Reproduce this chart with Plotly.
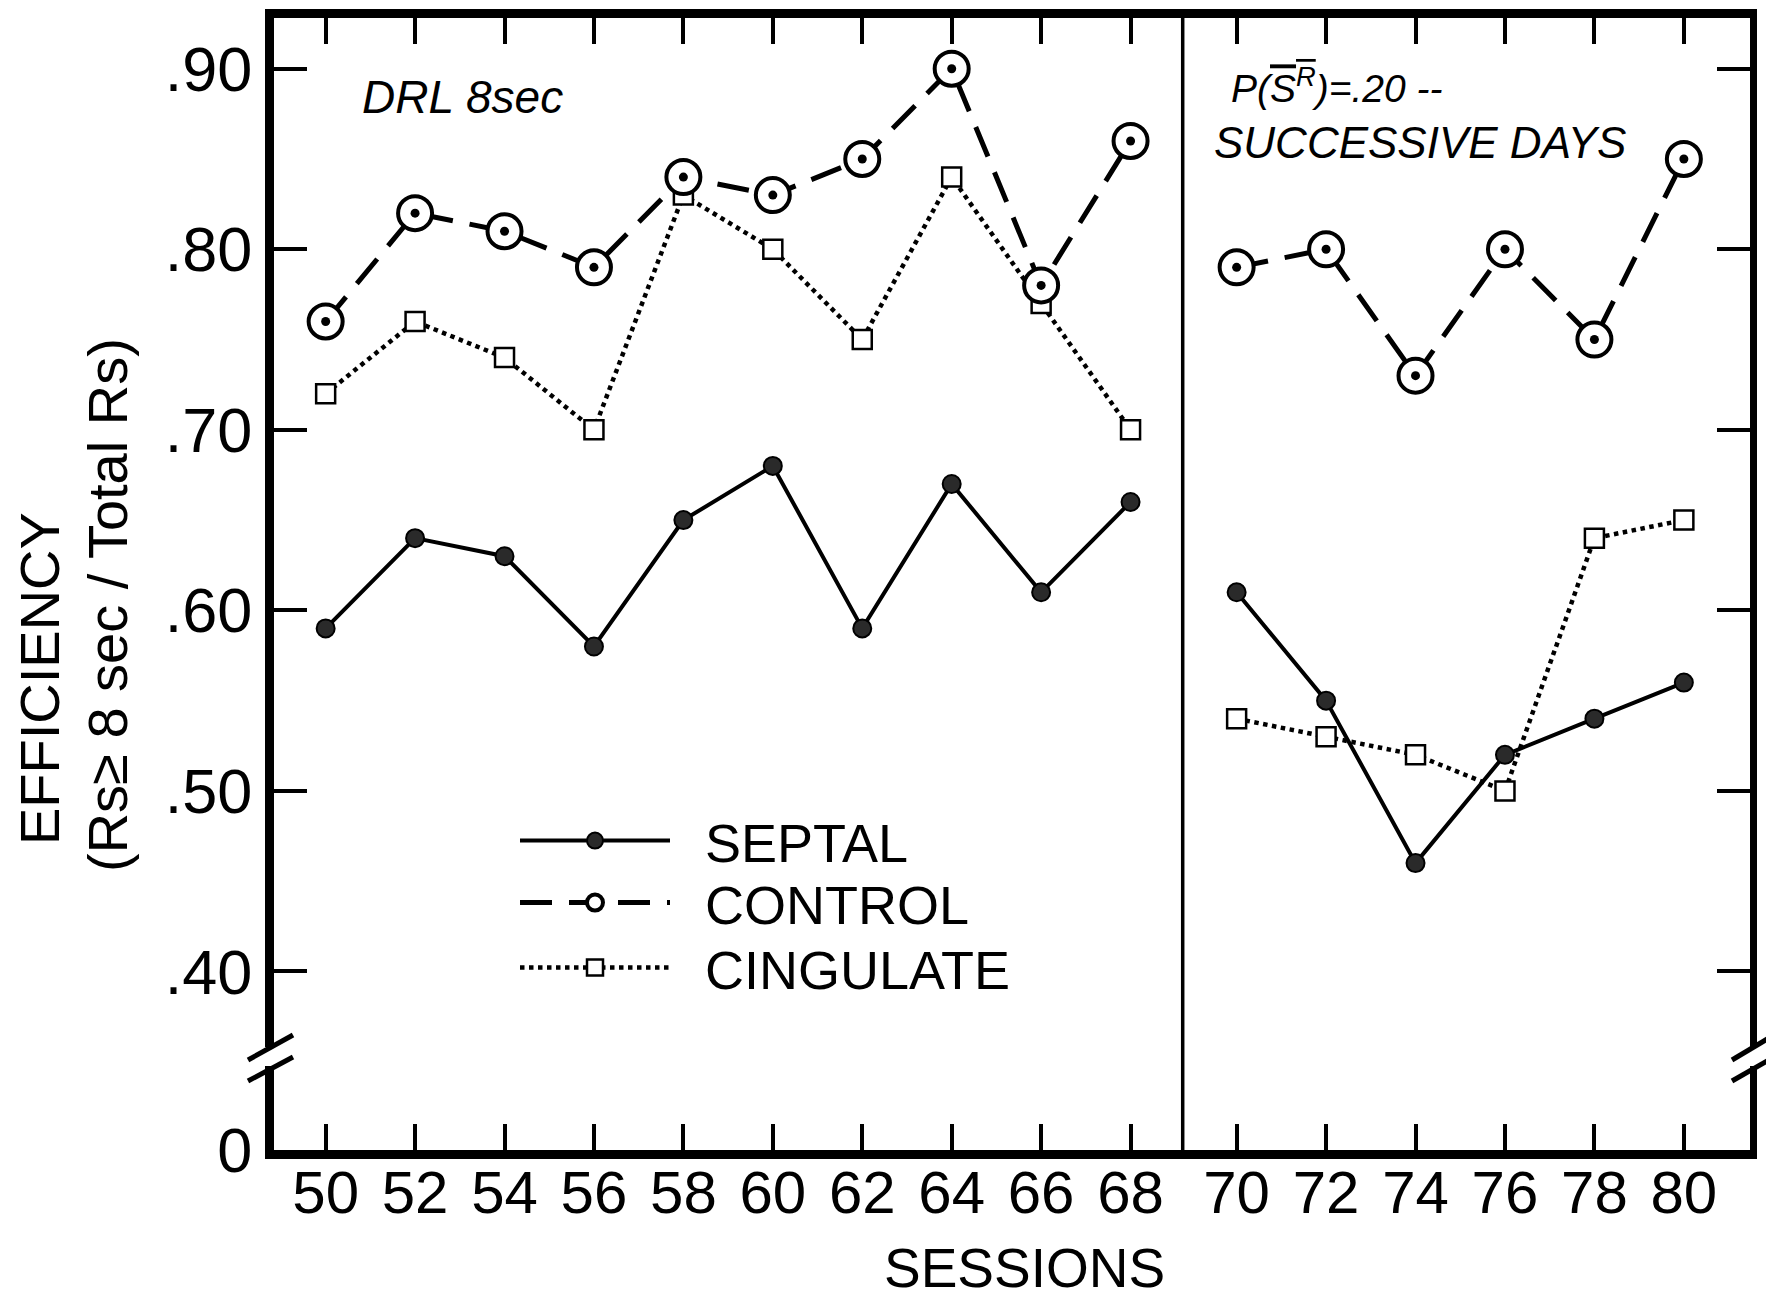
import plotly.graph_objects as go

# ---------------- data ----------------
sessions_drl = [50, 52, 54, 56, 58, 60, 62, 64, 66, 68]
sessions_succ = [70, 72, 74, 76, 78, 80]

septal_drl = [0.59, 0.64, 0.63, 0.58, 0.65, 0.68, 0.59, 0.67, 0.61, 0.66]
control_drl = [0.76, 0.82, 0.81, 0.79, 0.84, 0.83, 0.85, 0.90, 0.78, 0.86]
cingulate_drl = [0.72, 0.76, 0.74, 0.70, 0.83, 0.80, 0.75, 0.84, 0.77, 0.70]

septal_succ = [0.61, 0.55, 0.46, 0.52, 0.54, 0.56]
control_succ = [0.79, 0.80, 0.73, 0.80, 0.75, 0.85]
cingulate_succ = [0.54, 0.53, 0.52, 0.50, 0.64, 0.65]

y_break_bottom = 0.3011  # value drawn at the "0" position (broken axis)
y_top = 0.9281
y_tickvals = [0.40, 0.50, 0.60, 0.70, 0.80, 0.90]
y_ticktext = [".40", ".50", ".60", ".70", ".80", ".90"]

FONT = "Liberation Sans"
BLACK = "black"

fig = go.Figure()

styles = {
    "SEPTAL": dict(line=dict(color=BLACK, width=4, dash="solid"),
                   marker=dict(symbol="circle", size=18, color="#2a2a2a",
                               line=dict(color=BLACK, width=2))),
    "CONTROL": dict(line=dict(color=BLACK, width=5, dash="32px,17px"),
                    marker=dict(symbol="circle", size=34, color="white",
                                line=dict(color=BLACK, width=4))),
    "CINGULATE": dict(line=dict(color=BLACK, width=4.5, dash="dot"),
                      marker=dict(symbol="square", size=19, color="white",
                                  line=dict(color=BLACK, width=2.5))),
}
legend_of = {"SEPTAL": "legend", "CONTROL": "legend2", "CINGULATE": "legend3"}

order = [("CINGULATE", cingulate_drl, cingulate_succ),
         ("SEPTAL", septal_drl, septal_succ),
         ("CONTROL", control_drl, control_succ)]

NB = "\u00a0\u00a0"
for name, left_vals, right_vals in order:
    st = styles[name]
    for xs, ys, xa, ya, show in [(sessions_drl, left_vals, "x", "y", True),
                                 (sessions_succ, right_vals, "x2", "y2", False)]:
        fig.add_trace(go.Scatter(x=xs, y=ys, mode="lines+markers",
                                 name=NB + name, legendgroup=name, showlegend=show,
                                 legend=legend_of[name],
                                 line=st["line"], marker=st["marker"],
                                 xaxis=xa, yaxis=ya))
        if name == "CONTROL":
            # centre dot of the control symbol
            fig.add_trace(go.Scatter(x=xs, y=ys, mode="markers", showlegend=False,
                                     legendgroup=name, legend=legend_of[name],
                                     hoverinfo="skip",
                                     marker=dict(symbol="circle", size=9, color=BLACK),
                                     xaxis=xa, yaxis=ya))

# page body has an 8px offset; design in screen pixels
OFF = 8
W, H = 1774 - OFF, 1298 - OFF
IL, IR, IT, IB = 274, 1750, 18, 1150  # inner plot edges in screen px
L, R, T, B = IL - OFF, W - (IR - OFF), IT - OFF, H - (IB - OFF)
pw = IR - IL
ph = IB - IT
split = (1182.7 - IL) / pw


def px(xp):
    return (xp - IL) / pw


def py(yp):
    return (IB - yp) / ph


axis_common = dict(ticks="inside", tickcolor=BLACK, showline=True, linecolor=BLACK,
                   showgrid=False, zeroline=False, automargin=False)
xfont = dict(family=FONT, size=60, color=BLACK)
yfont = dict(family=FONT, size=63, color=BLACK)

leg_common = dict(xanchor="left", yanchor="middle", bgcolor="rgba(0,0,0,0)",
                  borderwidth=0, itemwidth=150,
                  font=dict(family=FONT, size=54, color=BLACK))

fig.update_layout(
    template="none",
    width=W, height=H,
    margin=dict(l=L, r=R, t=T, b=B, pad=0, autoexpand=False),
    paper_bgcolor="white", plot_bgcolor="white",
    font=dict(family=FONT, color=BLACK),
    xaxis=dict(domain=[0, split], range=[48.845, 69.166], tickvals=sessions_drl,
               ticklen=26, tickwidth=4, linewidth=9, mirror="ticks", anchor="y",
               ticklabelstandoff=-18, tickfont=xfont, **axis_common),
    xaxis2=dict(domain=[split, 1], range=[68.794, 81.479], tickvals=sessions_succ,
                ticklen=26, tickwidth=4, linewidth=9, mirror="ticks", anchor="y2",
                ticklabelstandoff=-18, tickfont=xfont, **axis_common),
    yaxis=dict(domain=[0, 1], range=[y_break_bottom, y_top],
               tickvals=[y_break_bottom] + y_tickvals, ticktext=["0"] + y_ticktext,
               ticklen=33, tickwidth=4, linewidth=9, anchor="x", tickfont=yfont,
               **axis_common),
    yaxis2=dict(domain=[0, 1], range=[y_break_bottom, y_top], tickvals=y_tickvals,
                showticklabels=False, side="right",
                ticklen=33, tickwidth=4, linewidth=7, anchor="x2", **axis_common),
    showlegend=True,
    legend=dict(x=px(515), y=py(841), **leg_common),
    legend2=dict(x=px(515), y=py(903), **leg_common),
    legend3=dict(x=px(515), y=py(968), **leg_common),
)

shapes = []
# panel divider
shapes.append(dict(type="line", xref="paper", yref="paper", x0=split, x1=split,
                   y0=0, y1=1, line=dict(color=BLACK, width=3.5), layer="above"))
# axis breaks (left and right)
for xa, xb, xc in [(248, 293, 270), (1732, 1774, 1755)]:
    shapes.append(dict(type="rect", xref="paper", yref="paper",
                       x0=px(xc - 9), x1=px(xc + 9), y0=py(1066), y1=py(1047),
                       fillcolor="white", line=dict(width=0), layer="above"))
    shapes.append(dict(type="line", xref="paper", yref="paper",
                       x0=px(xa), y0=py(1060), x1=px(xb), y1=py(1035),
                       line=dict(color=BLACK, width=5), layer="above"))
    shapes.append(dict(type="line", xref="paper", yref="paper",
                       x0=px(xa), y0=py(1081), x1=px(xb), y1=py(1057),
                       line=dict(color=BLACK, width=5), layer="above"))
fig.update_layout(shapes=shapes)

ann = []
ann.append(dict(text="EFFICIENCY", x=px(40), y=py(679), xref="paper", yref="paper",
                textangle=-90, showarrow=False, xanchor="center", yanchor="middle",
                font=dict(family=FONT, size=56, color=BLACK)))
ann.append(dict(text="(Rs\u2265 8 sec / Total Rs)", x=px(107), y=py(605), xref="paper",
                yref="paper", textangle=-90, showarrow=False, xanchor="center",
                yanchor="middle", font=dict(family=FONT, size=56, color=BLACK)))
ann.append(dict(text="SESSIONS", x=px(1024), y=py(1268), xref="paper", yref="paper",
                showarrow=False, xanchor="center", yanchor="middle",
                font=dict(family=FONT, size=55, color=BLACK)))
ann.append(dict(text="<i>DRL 8sec</i>", x=px(360), y=py(97), xref="paper", yref="paper",
                showarrow=False, xanchor="left", yanchor="middle",
                font=dict(family=FONT, size=46, color=BLACK)))
ann.append(dict(text="<i>P(<span style='text-decoration:overline'>S<sup>R</sup></span>)=.20 --</i>",
                x=px(1229), y=py(86), xref="paper", yref="paper",
                showarrow=False, xanchor="left", yanchor="middle",
                font=dict(family=FONT, size=39, color=BLACK)))
ann.append(dict(text="<i>SUCCESSIVE DAYS</i>", x=px(1212), y=py(142), xref="paper",
                yref="paper", showarrow=False, xanchor="left", yanchor="middle",
                font=dict(family=FONT, size=44, color=BLACK)))
fig.update_layout(annotations=ann)

fig.write_html("out.html")
